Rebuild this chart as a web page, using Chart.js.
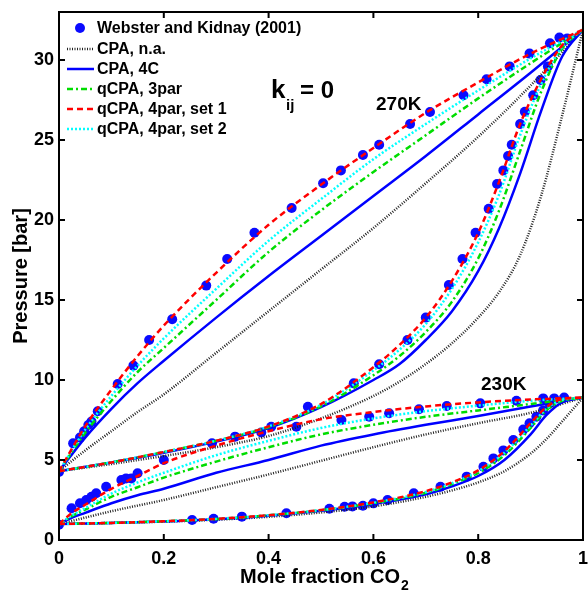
<!DOCTYPE html>
<html>
<head>
<meta charset="utf-8">
<title>CO2 + propane, kij = 0</title>
<script src="https://cdn.jsdelivr.net/npm/chart.js@4.4.1/dist/chart.umd.min.js"></script>
<style>
  html, body { margin: 0; padding: 0; background: #fff; }
  canvas { display: block; }
</style>
</head>
<body>
<canvas id="vle" width="588" height="591"></canvas>
<script>
// tick values
const xTicks = [0, 0.2, 0.4, 0.6, 0.8, 1];
const yTicks = [0, 5, 10, 15, 20, 25, 30];

// mole fraction grids for the model curves
const bub270X = [0, 0.05, 0.1, 0.15, 0.2, 0.3, 0.4, 0.5, 0.6, 0.7, 0.8, 0.9, 1];
const dew270X = [0, 0.1, 0.2, 0.3, 0.4, 0.5, 0.6, 0.65, 0.7, 0.75, 0.8, 0.84, 0.88, 0.92, 0.96, 1];
const bub230X = [0, 0.025, 0.05, 0.1, 0.15, 0.2, 0.3, 0.4, 0.5, 0.6, 0.7, 0.8, 0.9, 1];
const dew230X = [0, 0.1, 0.2, 0.3, 0.4, 0.5, 0.6, 0.7, 0.75, 0.8, 0.85, 0.9, 0.93, 0.96, 1];

// CPA, n.a.
const cpaNaBub270 = [4.3, 5.6, 6.8, 8.0, 9.1, 11.7, 14.3, 16.9, 19.5, 22.3, 25.2, 28.4, 31.9];
const cpaNaDew270 = [4.3, 4.75, 5.25, 5.8, 6.5, 7.6, 9.0, 9.9, 11.0, 12.3, 13.9, 15.5, 17.8, 21.5, 26.5, 31.9];
const cpaNaBub230 = [1.0, 1.2, 1.4, 1.8, 2.15, 2.5, 3.3, 4.1, 4.95, 5.8, 6.6, 7.3, 7.95, 8.9];
const cpaNaDew230 = [1.0, 1.07, 1.15, 1.27, 1.45, 1.72, 2.1, 2.7, 3.1, 3.6, 4.3, 5.4, 6.3, 7.4, 8.9];

// CPA, 4C
const cpa4cBub270 = [4.3, 6.4, 8.2, 9.8, 11.2, 13.9, 16.5, 19.0, 21.5, 24.0, 26.6, 29.2, 31.9];
const cpa4cDew270 = [4.3, 4.85, 5.45, 6.15, 7.0, 8.3, 10.0, 11.0, 12.5, 14.3, 16.8, 19.5, 22.9, 26.8, 30.2, 31.9];
const cpa4cBub230 = [1.0, 1.4, 1.7, 2.3, 2.8, 3.2, 4.2, 5.0, 5.9, 6.6, 7.2, 7.75, 8.35, 8.9];
const cpa4cDew230 = [1.0, 1.07, 1.16, 1.3, 1.52, 1.83, 2.25, 2.85, 3.35, 4.0, 5.0, 6.6, 7.8, 8.6, 8.9];

// qCPA, 3par
const q3Bub270 = [4.3, 6.7, 8.7, 10.5, 12.0, 15.0, 18.0, 20.6, 23.0, 25.3, 27.6, 29.8, 31.9];
const q3Dew270 = [4.3, 4.85, 5.5, 6.2, 7.05, 8.35, 10.3, 11.5, 13.0, 14.9, 17.6, 20.6, 24.3, 28.0, 30.7, 31.9];
const q3Bub230 = [1.0, 1.5, 1.9, 2.7, 3.3, 3.9, 4.9, 5.8, 6.6, 7.2, 7.7, 8.1, 8.5, 8.9];
const q3Dew230 = [1.0, 1.07, 1.17, 1.31, 1.54, 1.86, 2.3, 2.95, 3.5, 4.2, 5.3, 7.0, 8.1, 8.7, 8.9];

// qCPA, 4par, set 1
const q4s1Bub270 = [4.3, 7.1, 9.4, 11.5, 13.4, 16.7, 19.7, 22.2, 24.5, 26.7, 28.6, 30.4, 31.9];
const q4s1Dew270 = [4.3, 4.85, 5.5, 6.2, 7.1, 8.5, 10.8, 12.2, 13.9, 16.2, 19.2, 22.4, 26.0, 28.8, 30.9, 31.9];
const q4s1Bub230 = [1.0, 1.7, 2.2, 3.2, 4.0, 4.8, 5.9, 6.8, 7.55, 8.0, 8.35, 8.6, 8.78, 8.9];
const q4s1Dew230 = [1.0, 1.07, 1.17, 1.32, 1.55, 1.88, 2.35, 3.05, 3.6, 4.35, 5.55, 7.3, 8.3, 8.8, 8.9];

// qCPA, 4par, set 2
const q4s2Bub270 = [4.3, 6.9, 9.0, 10.9, 12.6, 15.7, 18.7, 21.3, 23.8, 26.0, 28.1, 30.1, 31.9];
const q4s2Dew270 = [4.3, 4.85, 5.5, 6.2, 7.1, 8.45, 10.6, 11.9, 13.5, 15.7, 18.6, 21.6, 25.3, 28.5, 30.8, 31.9];
const q4s2Bub230 = [1.0, 1.55, 2.0, 2.9, 3.6, 4.2, 5.3, 6.2, 7.0, 7.6, 8.05, 8.4, 8.7, 8.9];
const q4s2Dew230 = [1.0, 1.07, 1.17, 1.32, 1.55, 1.87, 2.33, 3.0, 3.55, 4.3, 5.45, 7.15, 8.2, 8.75, 8.9];

// Webster and Kidnay (2001)
const exp270BubX = [0, 0.027, 0.04, 0.048, 0.056, 0.062, 0.074, 0.112, 0.142, 0.172, 0.216, 0.281, 0.321, 0.373, 0.444, 0.504, 0.538, 0.58, 0.611, 0.67, 0.708, 0.772, 0.816, 0.86, 0.898, 0.937, 0.955, 0.97];
const exp270BubP = [4.25, 6.04, 6.4, 6.8, 7.19, 7.4, 8.05, 9.75, 10.9, 12.5, 13.8, 15.9, 17.56, 19.2, 20.75, 22.3, 23.1, 24.06, 24.7, 26.0, 26.75, 27.8, 28.8, 29.6, 30.4, 31.05, 31.4, 31.35];
const exp270DewX = [0.475, 0.5625, 0.611, 0.665, 0.70, 0.744, 0.77, 0.795, 0.82, 0.836, 0.848, 0.857, 0.864, 0.88, 0.889, 0.905, 0.919, 0.933];
const exp270DewP = [8.33, 9.79, 10.98, 12.5, 13.9, 15.94, 17.56, 19.2, 20.7, 22.25, 23.1, 24.0, 24.7, 26.0, 26.77, 27.8, 28.75, 29.6];
const exp230BubX = [0, 0.024, 0.04, 0.052, 0.062, 0.071, 0.09, 0.119, 0.128, 0.138, 0.15, 0.2, 0.292, 0.336, 0.386, 0.405, 0.453, 0.539, 0.592, 0.63, 0.687, 0.74, 0.804, 0.873, 0.924, 0.945, 0.964];
const exp230BubP = [0.95, 1.98, 2.3, 2.5, 2.7, 2.92, 3.33, 3.75, 3.85, 3.85, 4.17, 5.0, 6.04, 6.46, 6.72, 7.08, 7.08, 7.5, 7.7, 7.92, 8.17, 8.375, 8.54, 8.7, 8.85, 8.85, 8.9];
const exp230DewX = [0.254, 0.295, 0.349, 0.434, 0.516, 0.545, 0.56, 0.58, 0.6, 0.627, 0.677, 0.728, 0.778, 0.81, 0.829, 0.848, 0.867, 0.886, 0.898, 0.911, 0.924, 0.936];
const exp230DewP = [1.25, 1.33, 1.46, 1.67, 1.95, 2.08, 2.1, 2.14, 2.29, 2.5, 2.92, 3.33, 3.96, 4.58, 5.1, 5.6, 6.25, 6.9, 7.3, 7.7, 8.1, 8.54];

const models = [
  { label: "CPA, n.a.", color: "#222222", width: 2.5, dash: [1, 1.5], order: 5,
    curves: [cpaNaBub270, cpaNaDew270, cpaNaBub230, cpaNaDew230] },
  { label: "CPA, 4C", color: "#0000ff", width: 2.5, dash: [], order: 4,
    curves: [cpa4cBub270, cpa4cDew270, cpa4cBub230, cpa4cDew230] },
  { label: "qCPA, 3par", color: "#00dd00", width: 2.5, dash: [6, 3, 2, 3], order: 3,
    curves: [q3Bub270, q3Dew270, q3Bub230, q3Dew230] },
  { label: "qCPA, 4par, set 1", color: "#ff0000", width: 2.5, dash: [6, 4], order: 1,
    curves: [q4s1Bub270, q4s1Dew270, q4s1Bub230, q4s1Dew230] },
  { label: "qCPA, 4par, set 2", color: "#00ffff", width: 2.5, dash: [2, 2], order: 2,
    curves: [q4s2Bub270, q4s2Dew270, q4s2Bub230, q4s2Dew230] }
];
const grids = [bub270X, dew270X, bub230X, dew230X];

function pts(xs, ps) {
  return xs.map((x, i) => ({ x: x, y: ps[i] }));
}

const datasets = [];
models.forEach(m => {
  m.curves.forEach((ps, k) => {
    datasets.push({
      label: m.label,
      data: pts(grids[k], ps),
      showLine: true,
      borderColor: m.color,
      borderWidth: m.width,
      borderDash: m.dash,
      pointRadius: 0,
      cubicInterpolationMode: "monotone",
      order: m.order
    });
  });
});
datasets.push({
  label: "Webster and Kidnay (2001)",
  data: pts(exp270BubX, exp270BubP).concat(pts(exp270DewX, exp270DewP),
    pts(exp230BubX, exp230BubP), pts(exp230DewX, exp230DewP)),
  showLine: false,
  pointRadius: 5,
  pointBackgroundColor: "#0a0aff",
  pointBorderWidth: 0,
  order: 100
});

const FONT = "'Liberation Sans', Arial, sans-serif";

// frame, inward ticks, legend and labels
const decor = {
  id: "decor",
  afterDatasetsDraw(chart) {
    const { ctx, chartArea: a, scales: { x, y } } = chart;
    ctx.save();
    ctx.strokeStyle = "#000";
    ctx.lineWidth = 2;
    ctx.setLineDash([]);
    ctx.beginPath();
    xTicks.forEach(v => {
      const px = x.getPixelForValue(v);
      ctx.moveTo(px, a.bottom); ctx.lineTo(px, a.bottom - 6);
      ctx.moveTo(px, a.top); ctx.lineTo(px, a.top + 6);
    });
    yTicks.forEach(v => {
      const py = y.getPixelForValue(v);
      ctx.moveTo(a.left, py); ctx.lineTo(a.left + 6, py);
      ctx.moveTo(a.right, py); ctx.lineTo(a.right - 6, py);
    });
    ctx.stroke();
    ctx.strokeRect(a.left, a.top, a.right - a.left, a.bottom - a.top);

    // legend
    ctx.font = "bold 16px " + FONT;
    ctx.textBaseline = "middle";
    ctx.textAlign = "left";
    ctx.fillStyle = "#000";
    ctx.fillText("Webster and Kidnay (2001)", 97, 29);
    ctx.beginPath();
    ctx.arc(80, 28, 5, 0, Math.PI * 2);
    ctx.fillStyle = "#0a0aff";
    ctx.fill();
    models.forEach((m, i) => {
      const ly = 49 + 20 * i;
      ctx.strokeStyle = m.color;
      ctx.lineWidth = m.width;
      ctx.setLineDash(m.dash);
      ctx.beginPath();
      ctx.moveTo(67, ly); ctx.lineTo(94, ly);
      ctx.stroke();
      ctx.fillStyle = "#000";
      ctx.fillText(m.label, 97, ly + 1);
    });
    ctx.setLineDash([]);

    // annotations
    ctx.fillStyle = "#000";
    ctx.font = "bold 26px " + FONT;
    ctx.textBaseline = "alphabetic";
    ctx.fillText("k", 271, 98);
    ctx.font = "bold 15px " + FONT;
    ctx.fillText("ij", 286, 110);
    ctx.font = "bold 24px " + FONT;
    ctx.fillText("= 0", 300, 98);
    ctx.font = "bold 19px " + FONT;
    ctx.fillText("270K", 376, 110);
    ctx.fillText("230K", 481, 390);

    // axis titles
    ctx.font = "bold 20px " + FONT;
    const main = "Mole fraction CO";
    const w = ctx.measureText(main).width;
    ctx.font = "bold 14px " + FONT;
    const ws = ctx.measureText("2").width;
    const x0 = 324 - (w + ws) / 2;
    ctx.font = "bold 20px " + FONT;
    ctx.fillText(main, x0, 583);
    ctx.font = "bold 14px " + FONT;
    ctx.fillText("2", x0 + w + 1, 590);

    ctx.translate(21, 276);
    ctx.rotate(-Math.PI / 2);
    ctx.font = "bold 20px " + FONT;
    ctx.textAlign = "center";
    ctx.textBaseline = "middle";
    ctx.fillText("Pressure [bar]", 0, 0);
    ctx.restore();
  }
};

new Chart(document.getElementById("vle"), {
  type: "scatter",
  data: { datasets: datasets },
  options: {
    responsive: false,
    animation: false,
    devicePixelRatio: 1,
    layout: { padding: { top: 12, right: 1, left: 0, bottom: 0 } },
    plugins: { legend: { display: false }, tooltip: { enabled: false } },
    scales: {
      x: {
        type: "linear", min: 0, max: 1,
        grid: { display: false, drawTicks: false },
        border: { display: false },
        ticks: { color: "#000", font: { family: FONT, size: 18, weight: "bold" }, padding: 8,
                 maxRotation: 0, callback: v => String(Math.round(v * 10) / 10) },
        afterBuildTicks: s => { s.ticks = xTicks.map(v => ({ value: v })); },
        afterFit: s => { s.height = 51; s.paddingLeft = 0; s.paddingRight = 0; }
      },
      y: {
        type: "linear", min: 0, max: 33,
        grid: { display: false, drawTicks: false },
        border: { display: false },
        ticks: { color: "#000", font: { family: FONT, size: 18, weight: "bold" }, padding: 5 },
        afterBuildTicks: s => { s.ticks = yTicks.map(v => ({ value: v })); },
        afterFit: s => { s.width = 59; s.paddingTop = 0; s.paddingBottom = 0; }
      }
    }
  },
  plugins: [decor]
});
</script>
</body>
</html>
